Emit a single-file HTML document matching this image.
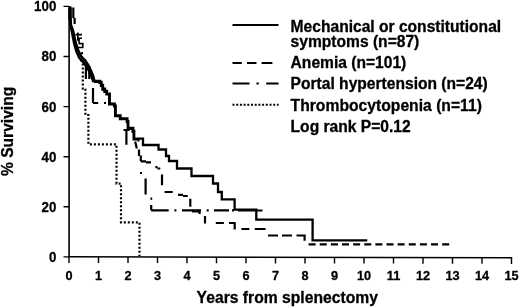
<!DOCTYPE html>
<html><head><meta charset="utf-8"><title>Survival after splenectomy</title>
<style>html,body{margin:0;padding:0;background:#fff}body{width:520px;height:308px;overflow:hidden;font-family:"Liberation Sans",sans-serif}svg{display:block;filter:grayscale(1)}</style>
</head><body>
<svg width="520" height="308" viewBox="0 0 520 308">
<rect width="520" height="308" fill="#fff"/>
<g fill="none" stroke="#000">
<path d="M69.1,6 V257" stroke-width="1.6"/>
<path d="M68.3,256.8 L512.2,257.8" stroke-width="1.5"/>
<path d="M63.5,256.9H69M63.5,206.8H69M63.5,156.7H69M63.5,106.6H69M63.5,56.5H69M63.5,6.4H69M69.0,256.8V262.9M98.5,256.9V263.0M128.0,256.9V263.0M157.5,257.0V263.1M187.0,257.1V263.2M216.5,257.1V263.2M246.0,257.2V263.3M275.5,257.3V263.4M305.0,257.3V263.4M334.5,257.4V263.5M364.0,257.5V263.6M393.5,257.5V263.6M423.0,257.6V263.7M452.5,257.7V263.8M482.0,257.7V263.8M511.5,257.8V263.9" stroke-width="1.4"/>
<path d="M77.8,32.6L77.8,40.8M79.1,38.3L79.1,43.6M75.4,34.6L82.0,34.6M78.5,38.3L82.0,38.3M78.5,43.6L83.4,43.6M82.8,43.0L82.8,48.0M76.6,47.5L83.6,47.5" stroke-width="1.6"/>
<polyline points="81.2,53.0 81.9,53.0 81.9,61.0 82.8,61.0 82.8,65.0 82.8,88.7 85.4,88.7 85.4,115.0 88.4,115.0 88.4,144.3 116.5,144.3 116.5,183.6 121.0,183.6 121.0,222.4 139.5,222.4 139.5,256.0" stroke-width="2.2" stroke-dasharray="2 2"/>
<path d="M73.3,7.6L73.3,18.0M73.3,18.0L74.6,18.0M74.6,18.0L74.6,24.0M85.9,65.0L85.9,79.0M89.3,66.0L89.3,79.0M93.0,88.0L93.0,103.0M93.0,103.0L98.2,103.0M104.0,103.0L106.0,103.0M123.5,130.0L129.5,130.0M126.4,130.0L126.4,144.8M135.2,141.6L136.8,148.5M140.0,173.0L142.0,173.0M145.6,178.5L145.6,194.6M150.4,198.7L152.2,198.7M151.2,205.0L151.2,210.3M151.2,210.3L168.7,210.3M174.4,210.3L176.4,210.3M182.0,210.3L201.0,210.3M206.7,210.3L208.7,210.3M214.0,210.3L229.0,210.3M232.0,210.3L234.0,210.3M238.0,210.5L262.5,210.5" stroke-width="2.2"/>
<polyline points="69.6,7.6 69.6,19.0 70.6,19.0 70.8,27.0 72.0,32.5 73.2,38.7 74.5,45.0 76.4,51.5 79.2,57.8 81.2,60.3 83.3,62.0 86.5,66.5 89.2,71.5 91.8,77.5 93.4,82.0" stroke-width="2.4" stroke-linejoin="round"/>
<path d="M71.6,8.5V19" stroke-width="1.8" stroke-dasharray="1.5 1.2" stroke="#444"/>
<polyline points="93.7,82.0 99.3,82.0 99.3,83.0 100.8,83.0 100.8,86.0 102.3,86.0 102.3,89.7 104.3,89.7 104.3,92.0 106.3,92.0 106.3,94.6 109.0,94.6 109.0,101.0 109.0,104.6 114.0,104.6 114.0,106.6 115.0,106.6 115.0,116.3 119.8,116.3 119.8,119.3 126.7,119.3 126.7,122.2 127.6,122.2 127.6,129.0 132.5,129.0 132.5,132.0 133.5,132.0 133.5,139.5 138.5,139.5 138.5,141.5" stroke-width="2"/>
<path d="M139.0,149.5L139.0,156.0M140.8,155.5L140.8,161.3M140.8,161.3L146.0,161.3M146.0,162.3L151.0,162.3M155.3,167.2L157.5,167.2M157.5,168.5L160.3,168.5M162.0,174.4L162.0,185.2M164.6,192.0L172.7,192.0M178.0,194.8L183.0,194.8M183.0,196.0L187.8,196.0M190.3,198.7L190.3,206.7M192.0,211.4L199.6,211.4M199.6,210.5L199.6,214.0M205.0,216.0L205.0,223.6M215.8,223.0L223.9,223.0M229.0,223.0L234.7,223.0M234.7,222.2L234.7,229.6M241.4,229.0L249.4,229.0M254.8,229.0L265.6,229.0M268.0,235.5L278.0,235.5M282.0,235.5L292.0,235.5M296.5,235.5L304.6,235.5M304.6,234.6L304.6,240.8" stroke-width="2.2"/>
<polyline points="308.6,244.4 449.3,244.4" stroke-width="2.2" stroke-dasharray="7 4.13"/>
<polyline points="69.0,7.6 70.4,7.6 70.4,19.0 70.9,25.0 73.1,31.2 74.5,37.5 76.0,43.8 78.1,50.0 81.0,56.2 83.0,58.5 85.0,60.3 88.1,65.0 90.6,70.0 93.1,76.0 94.4,81.0" stroke-width="2.6" stroke-linejoin="round"/>
<polyline points="94.4,81.0 100.0,81.0 100.0,82.0 101.5,82.0 101.5,85.0 103.0,85.0 103.0,88.7 105.0,88.7 105.0,91.0 107.0,91.0 107.0,93.6 109.8,93.6 109.8,100.0 109.8,103.6 114.7,103.6 114.7,105.6 115.7,105.6 115.7,115.3 120.5,115.3 120.5,118.3 127.4,118.3 127.4,121.2 128.3,121.2 128.3,128.0 133.2,128.0 133.2,131.0 134.2,131.0 134.2,138.7 143.0,138.7 143.0,140.7 143.0,145.0 158.5,145.0 158.5,149.5 166.0,149.5 166.0,156.0 169.0,156.0 169.0,161.0 177.0,161.0 177.0,168.5 191.5,168.5 191.5,176.0 213.0,176.0 213.0,183.5 218.0,183.5 218.0,192.0 221.8,192.0 221.8,199.4 234.6,199.4 234.6,209.6 256.3,209.6 256.3,219.6 312.6,219.6 312.6,240.4 367.3,240.4" stroke-width="2.3"/>
<path d="M232.5,25H278.5" stroke-width="2"/>
<path d="M232.5,63H241.8M247,63H256.5M261.6,63H272.4" stroke-width="2"/>
<path d="M232.5,83.5H249.5M256.5,83.5H258.8M266.2,83.5H278.6" stroke-width="2"/>
<path d="M232.5,104.8H278.6" stroke-width="2" stroke-dasharray="2 1.7"/>
</g>
<g font-family="'Liberation Sans',sans-serif" font-weight="bold" fill="#000" stroke="#000" stroke-width="0.3" stroke-linejoin="round">
<g font-size="14.8" text-anchor="end">
<text transform="translate(56.3,261.8) scale(0.9,1)">0</text>
<text transform="translate(56.3,211.7) scale(0.9,1)">20</text>
<text transform="translate(56.3,161.6) scale(0.9,1)">40</text>
<text transform="translate(56.3,111.5) scale(0.9,1)">60</text>
<text transform="translate(56.3,61.4) scale(0.9,1)">80</text>
<text transform="translate(56.3,11.3) scale(0.9,1)">100</text>
</g>
<g font-size="13.7" text-anchor="middle">
<text transform="translate(69.0,280.1) scale(0.93,1)">0</text>
<text transform="translate(98.5,280.1) scale(0.93,1)">1</text>
<text transform="translate(128.0,280.1) scale(0.93,1)">2</text>
<text transform="translate(157.5,280.1) scale(0.93,1)">3</text>
<text transform="translate(187.0,280.1) scale(0.93,1)">4</text>
<text transform="translate(216.5,280.1) scale(0.93,1)">5</text>
<text transform="translate(246.0,280.1) scale(0.93,1)">6</text>
<text transform="translate(275.5,280.1) scale(0.93,1)">7</text>
<text transform="translate(305.0,280.1) scale(0.93,1)">8</text>
<text transform="translate(334.5,280.1) scale(0.93,1)">9</text>
<text transform="translate(364.0,280.1) scale(0.93,1)">10</text>
<text transform="translate(393.5,280.1) scale(0.93,1)">11</text>
<text transform="translate(423.0,280.1) scale(0.93,1)">12</text>
<text transform="translate(452.5,280.1) scale(0.93,1)">13</text>
<text transform="translate(482.0,280.1) scale(0.93,1)">14</text>
<text transform="translate(511.5,280.1) scale(0.93,1)">15</text>
</g>
<g font-size="15.6">
<text x="290.6" y="31.7">Mechanical or constitutional</text>
<text x="290.6" y="46.5">symptoms (n=87)</text>
<text x="290.6" y="68">Anemia (n=101)</text>
<text x="290.6" y="89">Portal hypertension (n=24)</text>
<text x="290.6" y="111.4" font-size="15.7">Thrombocytopenia (n=11)</text>
<text x="290.6" y="132.4">Log rank P=0.12</text>
<text x="196.6" y="303.4" font-size="15.7">Years from splenectomy</text>
<text transform="translate(13,176) rotate(-90)">% Surviving</text>
</g></g></svg>
</body></html>
